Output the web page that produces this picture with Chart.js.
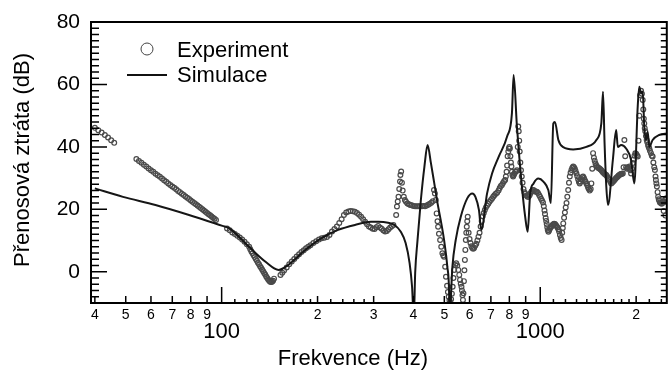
<!DOCTYPE html>
<html>
<head>
<meta charset="utf-8">
<script src="https://cdn.jsdelivr.net/npm/chart.js@4.4.1/dist/chart.umd.min.js"></script>
<style>
  html, body { margin: 0; padding: 0; background: #fff; }
  #c { display: block; }
</style>
</head>
<body>
<canvas id="c" width="672" height="372"></canvas>
<script>
// ---- data: [frekvence Hz, dB] ----
const simulace = [[40,26.7],[49,24.0],[62,21.4],[79,18.2],[100.6,14.7],[105.5,14.0],[121.8,8.0],[137.3,3.2],[151,0.6],[162,2.2],[183,7.0],[206,10.8],[232,13.4],[262,15.0],[294,16.0],[310,16.0],[333,15.7],[349,15.0],[365,12.8],[378,9.2],[389,2.8],[396,-4.8],[401,-15],[405,-0.4],[412,10.2],[422,23.0],[433,33.7],[443,40.6],[454,34.7],[465,28.3],[476,22.0],[487,16.6],[499,10.2],[511,1.6],[517.6,-6.9],[519,-15],[530,1.6],[543,10.2],[563,17.6],[590,23.5],[612,25.1],[626,24.0],[642,19.8],[653,13.4],[681,25.1],[706,31.5],[741,36.9],[787,43.3],[815,50.8],[825,63.0],[845,46.5],[876,27.3],[897,17.6],[913,12.8],[930,25.1],[953,28.3],[987,29.9],[1023,28.9],[1060,26.2],[1080,22.0],[1099,47.5],[1112,48.0],[1140,42.2],[1181,39.9],[1269,39.2],[1396,40.0],[1500,42.2],[1555,47.5],[1574,57.7],[1592,41.1],[1612,27.3],[1632,21.4],[1690,35.8],[1731,45.4],[1752,40.0],[1794,40.6],[1860,39.5],[1928,35.8],[1974,28.3],[2023,53.0],[2046,59.3],[2072,57.2],[2097,57.7],[2121,46.5],[2147,42.2],[2174,44.8],[2199,40.0],[2253,42.2],[2362,43.8],[2514,44.3]];

const expSeg1 = [[40,46.1],[41,45.3],[42,44.6],[43,43.8],[44,43.0],[45,42.1],[46,41.3]];
const expSeg2 = [[54,36.1],[55,35.5],[56,34.9],[57,34.3],[58,33.7],[59,33.1],[60,32.5],[61,32.0],[62,31.4],[63,30.9],[64,30.4],[65,29.85],[66,29.3],[67,28.8],[68,28.3],[69,27.8],[70,27.3],[71,26.9],[72,26.4],[73,25.9],[74,25.5],[75,25.0],[76,24.6],[77,24.1],[78,23.7],[79,23.3],[80,22.8],[81,22.4],[82,22.0],[83,21.6],[84,21.2],[85,20.8],[86,20.4],[87,20.0],[88,19.6],[89,19.2],[90,18.8],[91,18.4],[92,18.1],[93,17.7],[94,17.3],[95,17.0],[96,16.6]];
const expSeg3 = [[104,13.9],[106,13.3],[108,12.6],[110,12.1],[112,11.5],[114,11.0],[116,10.3],[118,9.6],[120,8.8],[122,8.0],[123,7.2],[124,6.5],[125,5.9],[126,5.3],[127,4.7],[128,4.1],[129,3.5],[130,2.9],[131,2.4],[132,1.8],[133,1.3],[134,0.7],[135,0.2],[136,-0.4],[137,-0.9],[138,-1.5],[139,-2.0],[140,-2.5],[141,-2.9],[142,-3.2],[143,-3.3],[144,-3.2],[145,-2.9],[146,-2.2]];
const expSeg4 = [[153,-1.0],[155,-0.3],[157,0.4],[160,1.4],[163,2.4],[166,3.3],[169,4.1],[172,4.9],[175,5.6],[178,6.3],[181,6.9],[184,7.5],[187,8.0],[190,8.5],[194,9.2],[198,9.8],[202,10.3],[206,10.7],[210,10.9],[214,11.1],[218,11.8],[222,12.9],[226,13.7],[230,14.5],[234,15.6],[238,16.8],[242,18.2],[246,19.0],[250,19.3],[254,19.5],[258,19.4],[262,19.2],[266,18.8],[270,18.3],[274,17.6],[278,16.8],[282,16.0],[286,15.2],[290,14.5],[294,14.2],[298,13.8],[302,13.7],[306,14.3],[310,14.7],[314,14.2],[318,13.8],[322,13.2],[326,12.9],[330,13.1],[334,13.6],[338,14.2],[342,14.6],[346,15.0]];
const expSeg5 = [[353,18.2],[355,20.9],[357,22.5],[359,24.0],[361,26.5],[363,28.9],[364,31.0],[366,32.1],[368,28.5],[370,26.0],[373,24.0],[376,23.0],[379,22.4],[383,21.9],[387,21.6],[391,21.4],[395,21.3],[400,21.1],[405,21.0],[410,21.0],[415,21.0],[420,21.0],[425,21.0],[430,21.1],[435,21.0],[440,21.2],[445,21.5],[450,21.8],[455,22.1],[460,22.6],[464,26.2],[467,25.1],[470,23.0],[473,18.7],[476,16.2],[478,14.4],[481,12.2],[485,10.2],[489,8.0],[493,5.9],[496,5.2],[499,4.8],[503,1.6],[506,-1.6],[510,-4.5],[513,-6.5],[516,-8.0],[519,-9.2],[522,-9.8],[525,-8.8],[528,-7.0],[531,-4.8],[534,-2.0],[537,0.6],[541,2.2],[545,2.7],[549,2.0],[553,0.6],[557,-1.0],[560,-2.6],[563,-3.8],[566,-4.8],[568,-6.0],[570,-7.5],[572,-9.0],[574,-6.9],[576,-3.0],[578,0.5],[580,3.8],[582,7.0],[584,10.2],[586,12.5],[588,14.4],[590,16.2],[592,17.6]];
const expSeg6 = [[596,12.5],[600,10.5],[604,9.2],[608,8.2],[612,7.6],[616,7.4],[620,7.6],[625,8.3],[630,9.0],[635,10.0],[640,11.2],[645,12.5],[650,14.5],[655,16.3],[660,17.8],[665,18.8],[670,19.8],[675,20.6],[681,21.2],[687,21.8],[693,22.4],[700,23.0],[706,23.5],[712,24.0],[718,24.5],[725,25.0],[732,25.3],[740,26.0],[746,26.8],[752,27.5],[758,27.8],[764,28.4],[770,29.0],[776,29.4],[780,30.5],[784,32.0],[787,34.0],[790,37.0],[794,38.5],[797,39.5],[800,40.0],[803,39.5],[806,37.0],[809,35.0],[812,33.7],[815,32.0],[818,31.0],[822,30.5],[826,31.0],[830,31.5],[835,32.0],[840,32.1],[845,32.5],[850,40.0],[853,46.5],[856,45.0],[859,42.0],[862,38.5],[866,35.0],[870,32.5],[875,30.5],[880,28.5],[886,26.5],[892,25.5],[898,25.0],[905,24.4],[912,24.0],[919,24.0],[926,24.5],[933,25.2],[940,25.8],[948,26.2],[955,26.1],[962,25.8],[969,25.6],[976,25.6],[984,25.2],[992,24.6],[999,24.0],[1006,23.4],[1013,22.8],[1020,22.2],[1026,21.0],[1031,19.6],[1035,18.5],[1040,17.2],[1044,16.3],[1048,15.3],[1052,14.3],[1056,13.4],[1061,12.8],[1066,13.2],[1072,13.8],[1079,14.3],[1086,14.6],[1093,15.0],[1100,15.2],[1106,15.4],[1112,15.3],[1119,15.0],[1126,14.6],[1133,14.2],[1140,13.6],[1146,12.9],[1153,11.8],[1160,10.8],[1167,10.2],[1172,12.5],[1177,14.0],[1181,15.5],[1188,17.3],[1195,19.0],[1202,20.6],[1209,22.0],[1216,24.0],[1224,26.2],[1231,28.5],[1238,30.5],[1245,31.7],[1253,32.6],[1261,33.3],[1269,33.7],[1276,33.5],[1284,33.0],[1291,32.3],[1299,31.5],[1307,30.6],[1315,29.6],[1322,28.8],[1330,28.3],[1338,28.8],[1346,29.6],[1355,30.3],[1363,30.5],[1371,30.0],[1379,29.4],[1388,28.8],[1396,28.3],[1405,27.7],[1413,27.0],[1421,26.5],[1430,26.0]];
const expSeg7 = [[1440,26.5],[1447,28.3],[1456,33.0],[1465,38.0],[1474,36.5],[1482,35.6],[1491,34.7],[1500,34.0],[1509,33.6],[1518,33.3],[1527,33.2],[1536,33.0],[1545,32.8],[1555,32.5],[1564,32.2],[1574,31.8],[1583,31.6],[1593,31.3],[1603,31.1],[1612,31.0],[1622,30.5],[1631,30.0],[1641,29.6],[1650,29.4],[1660,28.8],[1670,28.3],[1680,28.5],[1690,28.8],[1700,29.1],[1710,29.4],[1720,29.7],[1731,30.0],[1741,30.3],[1752,30.5],[1762,30.8],[1773,31.0],[1784,31.2],[1794,31.3],[1805,31.4],[1816,31.5],[1826,33.5],[1837,42.2],[1848,37.0],[1860,33.5],[1871,33.0],[1882,33.2],[1893,33.4],[1905,33.7],[1916,32.5],[1928,31.5],[1940,33.0],[1952,34.8],[1964,36.0],[1976,37.2],[1988,38.0],[2000,37.8],[2012,37.3],[2023,36.9],[2035,42.0],[2046,50.0],[2058,56.5],[2072,58.0],[2085,57.0],[2097,55.0],[2106,52.0],[2114,49.0],[2121,47.5],[2128,46.0],[2136,45.0],[2147,43.5],[2158,42.2],[2168,41.5],[2180,40.5],[2190,40.0],[2199,39.5],[2210,38.8],[2226,38.0],[2240,37.2],[2253,36.9],[2265,35.0],[2279,33.5],[2290,32.6],[2300,30.5],[2307,29.4],[2315,28.3],[2323,27.3],[2335,25.5],[2345,24.0],[2355,23.2],[2362,22.8],[2375,22.2],[2391,22.0],[2405,21.8],[2420,22.0],[2435,22.3],[2440,19.5],[2448,22.4],[2462,23.0],[2470,18.0],[2477,23.5],[2490,23.5]];

// ---- axis ticks ----
const yTicks       = [0, 20, 40, 60, 80];
const yMinorStep   = 2;
const xSmallTicks  = [40, 50, 60, 70, 80, 90, 200, 300, 400, 500, 600, 700, 800, 900, 2000];
const xSmallLabels = ['4', '5', '6', '7', '8', '9', '2', '3', '4', '5', '6', '7', '8', '9', '2'];
const xBigTicks    = [100, 1000];
const xBigLabels   = ['100', '1000'];
const xMinorTicks  = [110, 120, 130, 140, 150, 160, 170, 180, 190, 220, 240, 260, 280,
                      1100, 1200, 1300, 1400, 1500, 1600, 1700, 1800, 1900, 2200, 2400];

const FONT = '"Liberation Sans", Arial, Helvetica, sans-serif';
const toXY = arr => arr.map(([x, y]) => ({ x, y }));
const experiment = [].concat(expSeg1, expSeg2, expSeg3, expSeg4, expSeg5, expSeg6, expSeg7);

// ---- frame, ticks, labels, legend ----
const decor = {
  id: 'decor',
  afterDraw(chart) {
    const { ctx, chartArea: a, scales: { x, y } } = chart;
    ctx.save();
    ctx.strokeStyle = '#000';
    ctx.fillStyle = '#000';

    // ticks
    ctx.lineWidth = 1.5;
    ctx.beginPath();
    for (let v = -10; v <= 80; v += yMinorStep) {
      const py = y.getPixelForValue(v);
      const major = yTicks.includes(v);
      ctx.moveTo(a.left, py);  ctx.lineTo(a.left + (major ? 16 : 8), py);
      ctx.moveTo(a.right, py); ctx.lineTo(a.right - (major ? 12 : 6), py);
    }
    xBigTicks.forEach(f => { const px = x.getPixelForValue(f); ctx.moveTo(px, a.bottom); ctx.lineTo(px, a.bottom - 16); });
    xSmallTicks.forEach(f => { const px = x.getPixelForValue(f); ctx.moveTo(px, a.bottom); ctx.lineTo(px, a.bottom - 7); });
    xMinorTicks.forEach(f => { const px = x.getPixelForValue(f); ctx.moveTo(px, a.bottom); ctx.lineTo(px, a.bottom - 4); });
    ctx.stroke();

    // frame
    ctx.lineWidth = 2;
    ctx.strokeRect(a.left, a.top, a.right - a.left, a.bottom - a.top);

    // y tick labels
    ctx.font = '21px ' + FONT;
    ctx.textAlign = 'right';
    ctx.textBaseline = 'middle';
    yTicks.forEach(v => ctx.fillText(String(v), 80, y.getPixelForValue(v)));

    // x tick labels
    ctx.textAlign = 'center';
    ctx.font = '14px ' + FONT;
    xSmallTicks.forEach((f, i) => ctx.fillText(xSmallLabels[i], x.getPixelForValue(f), 315));
    ctx.font = '22px ' + FONT;
    xBigTicks.forEach((f, i) => ctx.fillText(xBigLabels[i], x.getPixelForValue(f), 332));

    // axis titles
    ctx.fillText('Frekvence (Hz)', 353, 359);
    ctx.save();
    ctx.translate(23, 160);
    ctx.rotate(-Math.PI / 2);
    ctx.fillText('Přenosová ztráta (dB)', 0, 0);
    ctx.restore();

    // legend
    ctx.lineWidth = 1;
    ctx.strokeStyle = '#444';
    ctx.beginPath();
    ctx.arc(147, 49, 6, 0, Math.PI * 2);
    ctx.stroke();
    ctx.strokeStyle = '#111';
    ctx.lineWidth = 2;
    ctx.beginPath();
    ctx.moveTo(127, 75); ctx.lineTo(167, 75);
    ctx.stroke();
    ctx.textAlign = 'left';
    ctx.textBaseline = 'alphabetic';
    ctx.fillText('Experiment', 177, 57);
    ctx.fillText('Simulace', 177, 82);

    ctx.restore();
  }
};

new Chart('c', {
  type: 'scatter',
  data: {
    datasets: [
      {
        label: 'Simulace',
        data: toXY(simulace),
        showLine: true,
        borderColor: '#161616',
        borderWidth: 2,
        pointRadius: 0,
        cubicInterpolationMode: 'monotone',
        clip: 0,
        order: 0
      },
      {
        label: 'Experiment',
        data: toXY(experiment),
        showLine: false,
        pointRadius: 2.4,
        borderWidth: 1.2,
        borderColor: '#4a4a4a',
        backgroundColor: 'rgba(0,0,0,0)',
        clip: 0,
        order: 1
      }
    ]
  },
  options: {
    responsive: false,
    animation: false,
    layout: { padding: { left: 91, right: 1, top: 22, bottom: 69 } },
    scales: {
      x: { type: 'logarithmic', min: 38.9, max: 2496, display: false },
      y: { type: 'linear', min: -10, max: 80, display: false }
    },
    plugins: { legend: { display: false }, tooltip: { enabled: false } }
  },
  plugins: [decor]
});
</script>
</body>
</html>
